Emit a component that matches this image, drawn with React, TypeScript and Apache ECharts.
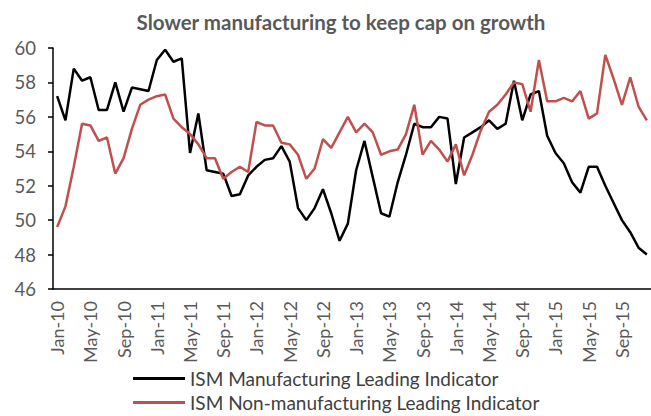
import React, { useEffect, useRef } from "react";
import * as echarts from "echarts";

const MONTHS = ["Jan", "Feb", "Mar", "Apr", "May", "Jun", "Jul", "Aug", "Sep", "Oct", "Nov", "Dec"];
const YEARS = ["10", "11", "12", "13", "14", "15"];
const categories: string[] = [];
YEARS.forEach((y) => MONTHS.forEach((m) => categories.push(`${m}-${y}`)));

const manufacturing = [
  57.2, 55.8, 58.8, 58.1, 58.3, 56.4, 56.4, 58.0, 56.3, 57.7, 57.6, 57.5,
  59.3, 59.9, 59.2, 59.4, 53.9, 56.2, 52.9, 52.8, 52.7, 51.4, 51.5, 52.6,
  53.1, 53.5, 53.6, 54.3, 53.4, 50.7, 50.0, 50.7, 51.8, 50.4, 48.8, 49.8,
  52.9, 54.6, 52.5, 50.4, 50.2, 52.2, 53.8, 55.6, 55.4, 55.4, 56.0, 55.9,
  52.1, 54.8, 55.1, 55.4, 55.8, 55.3, 55.6, 58.1, 55.8, 57.3, 57.5, 54.9,
  53.9, 53.3, 52.2, 51.6, 53.1, 53.1, 52.0, 51.0, 50.0, 49.3, 48.4, 48.0,
];

const nonManufacturing = [
  49.6, 50.8, 53.1, 55.6, 55.5, 54.6, 54.8, 52.7, 53.6, 55.3, 56.7, 57.0,
  57.2, 57.3, 55.9, 55.4, 55.0, 54.4, 53.6, 53.6, 52.4, 52.8, 53.1, 52.8,
  55.7, 55.5, 55.5, 54.5, 54.4, 53.8, 52.4, 53.0, 54.7, 54.2, 55.1, 56.0,
  55.1, 55.6, 55.1, 53.8, 54.0, 54.1, 55.0, 56.7, 53.8, 54.6, 54.1, 53.4,
  54.4, 52.6, 53.8, 55.2, 56.3, 56.7, 57.3, 58.0, 57.9, 56.3, 59.3, 56.9,
  56.9, 57.1, 56.9, 57.5, 55.9, 56.2, 59.6, 58.2, 56.7, 58.3, 56.6, 55.8,
];

const seriesNames = ["ISM Manufacturing Leading Indicator", "ISM Non-manufacturing Leading Indicator"];
const yMin = 46;
const yMax = 60;
const yStep = 2;

const FONT = "Lato, 'Open Sans', sans-serif";

const legendBase = {
  orient: "horizontal",
  left: 133,
  icon: "rect",
  itemWidth: 52,
  itemHeight: 3,
  itemGap: 0,
  padding: 0,
  textStyle: { fontFamily: FONT, fontSize: 19, lineHeight: 18, color: "#404040" },
};

export default function App() {
  const ref = useRef<HTMLDivElement>(null);
  useEffect(() => {
    if (!ref.current) return;
    const chart = echarts.init(ref.current, undefined, { renderer: "svg" });
    chart.setOption({
      animation: false,
      backgroundColor: "#ffffff",
      title: {
        text: "Slower manufacturing to keep cap on growth",
        left: 336,
        top: 6,
        textAlign: "center",
        textStyle: { fontFamily: FONT, fontSize: 20.5, fontWeight: "bold", color: "#595959" },
      },
      grid: { left: 53, right: 0, top: 48, bottom: 127, containLabel: false },
      legend: [
        { ...legendBase, top: 369, data: [seriesNames[0]] },
        { ...legendBase, top: 393, data: [seriesNames[1]] },
      ],
      xAxis: {
        type: "category",
        data: categories,
        boundaryGap: true,
        axisLine: { lineStyle: { color: "#000", width: 1.5 } },
        axisTick: { interval: 3, length: 6, lineStyle: { color: "#000", width: 1.5 } },
        axisLabel: {
          interval: 3,
          rotate: 90,
          margin: 12,
          fontFamily: FONT,
          fontSize: 18,
          color: "#595959",
        },
        splitLine: { show: false },
      },
      yAxis: {
        type: "value",
        min: yMin,
        max: yMax,
        interval: yStep,
        axisLine: { show: true, lineStyle: { color: "#000", width: 1.5 } },
        axisTick: { show: true, length: 5, lineStyle: { color: "#000", width: 1.5 } },
        axisLabel: { margin: 17, fontFamily: FONT, fontSize: 18.5, color: "#595959" },
        splitLine: { show: false },
      },
      series: [
        {
          name: seriesNames[0],
          type: "line",
          data: manufacturing,
          symbol: "none",
          lineStyle: { color: "#000000", width: 2.5 },
          itemStyle: { color: "#000000" },
        },
        {
          name: seriesNames[1],
          type: "line",
          data: nonManufacturing,
          symbol: "none",
          lineStyle: { color: "#C0504D", width: 2.5 },
          itemStyle: { color: "#C0504D" },
        },
      ],
    });
    return () => chart.dispose();
  }, []);
  return <div ref={ref} style={{ width: 651, height: 416, position: "fixed", left: 0, top: 0 }} />;
}
